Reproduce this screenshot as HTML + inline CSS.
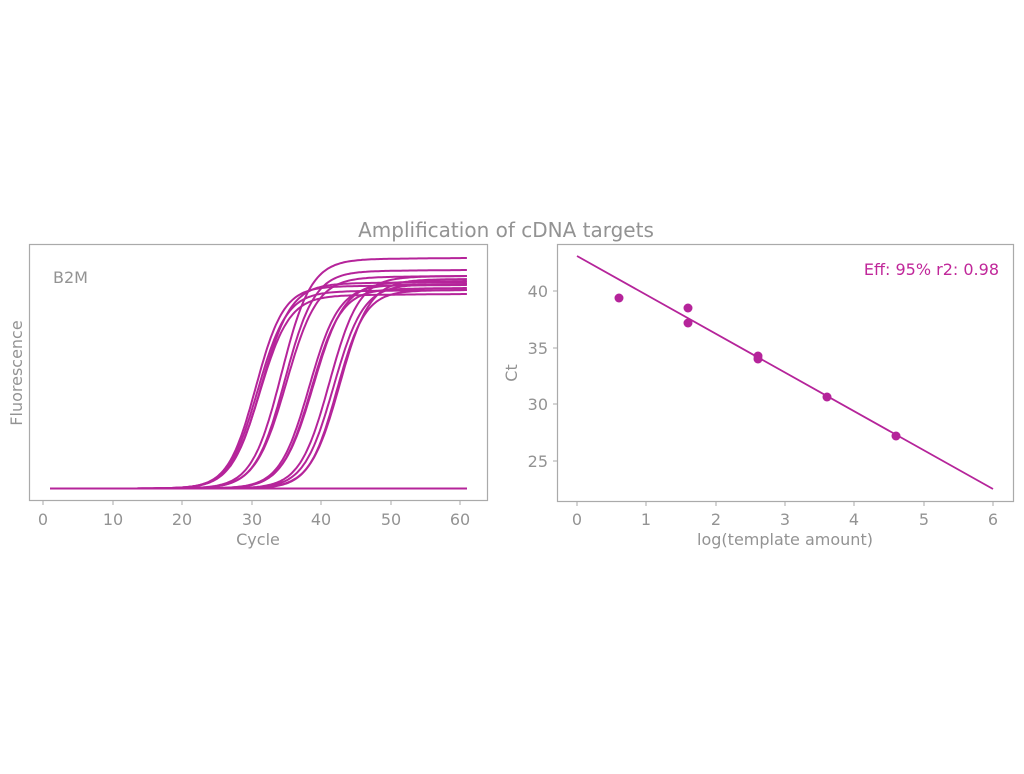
<!DOCTYPE html>
<html><head><meta charset="utf-8"><style>
body{margin:0;background:#fff;}
svg text{font-family:"DejaVu Sans","Liberation Sans",sans-serif;fill:#939393;}
</style></head><body>
<svg id="s" width="1024" height="769" xmlns="http://www.w3.org/2000/svg">
<text x="506" y="237" font-size="20" text-anchor="middle">Amplification of cDNA targets</text>
<rect x="29.5" y="244.5" width="458" height="256" fill="none" stroke="#aaa" stroke-width="1.2"/>
<text x="53" y="283" font-size="16">B2M</text>
<text transform="translate(22,373) rotate(-90)" font-size="16" text-anchor="middle">Fluorescence</text>
<g font-size="16" text-anchor="middle">
<text x="43" y="525">0</text><text x="113" y="525">10</text><text x="182" y="525">20</text><text x="252" y="525">30</text><text x="321" y="525">40</text><text x="391" y="525">50</text><text x="460" y="525">60</text>
<text x="258" y="545">Cycle</text>
</g>
<g stroke="#aaa"><line x1="43" y1="501" x2="43" y2="505"/><line x1="113" y1="501" x2="113" y2="505"/><line x1="182" y1="501" x2="182" y2="505"/><line x1="252" y1="501" x2="252" y2="505"/><line x1="321" y1="501" x2="321" y2="505"/><line x1="391" y1="501" x2="391" y2="505"/><line x1="460" y1="501" x2="460" y2="505"/></g>
<g id="curves" fill="none" stroke="#b5249a" stroke-width="2"></g>
<line x1="50" y1="488.5" x2="467" y2="488.5" stroke="#b5249a" stroke-width="2"/>

<rect x="557.5" y="244.5" width="456" height="257" fill="none" stroke="#aaa" stroke-width="1.2"/>
<text transform="translate(517,373) rotate(-90)" font-size="16" text-anchor="middle">Ct</text>
<g font-size="16" text-anchor="end">
<text x="548" y="297">40</text><text x="548" y="354">35</text><text x="548" y="410">30</text><text x="548" y="467">25</text>
</g>
<g stroke="#aaa"><line x1="553" y1="291" x2="557" y2="291"/><line x1="553" y1="348" x2="557" y2="348"/><line x1="553" y1="404" x2="557" y2="404"/><line x1="553" y1="461" x2="557" y2="461"/>
<line x1="577" y1="502" x2="577" y2="506"/><line x1="646" y1="502" x2="646" y2="506"/><line x1="716" y1="502" x2="716" y2="506"/><line x1="785" y1="502" x2="785" y2="506"/><line x1="854" y1="502" x2="854" y2="506"/><line x1="924" y1="502" x2="924" y2="506"/><line x1="993" y1="502" x2="993" y2="506"/></g>
<g font-size="16" text-anchor="middle">
<text x="577" y="525">0</text><text x="646" y="525">1</text><text x="716" y="525">2</text><text x="785" y="525">3</text><text x="854" y="525">4</text><text x="924" y="525">5</text><text x="993" y="525">6</text>
<text x="785" y="545">log(template amount)</text>
</g>
<text x="999" y="275" font-size="16" text-anchor="end" style="fill:#c0279a">Eff: 95% r2: 0.98</text>
<line x1="577" y1="256" x2="993" y2="489" stroke="#b5249a" stroke-width="1.8"/>
<g fill="#b5249a">
<circle cx="619" cy="298" r="4.5"/><circle cx="688" cy="308" r="4.5"/><circle cx="688" cy="323" r="4.5"/>
<circle cx="758" cy="356" r="4.5"/><circle cx="758" cy="359" r="4.5"/><circle cx="827" cy="397" r="4.5"/><circle cx="896" cy="436" r="4.5"/>
</g>
</svg>
<script>
var specs=[[30.6,285,0.5],[30.9,290,0.48],[31.2,294,0.47],[31.4,282,0.47],[34.3,258,0.47],[34.8,270,0.47],[35,276,0.45],
[38.3,284,0.47],[38.6,288,0.47],[38.9,281,0.45],[41.2,276,0.47],[41.8,284,0.47],[42.3,290,0.5],[42.7,279,0.47]];
var g=document.getElementById('curves'),ns='http://www.w3.org/2000/svg';
specs.forEach(function(s){var d='';for(var c=1;c<=61;c+=0.25){var x=43+c*6.95;var top=s[1]+ (61-c)*0.06;var y=488.5-(488.5-top)/(1+Math.exp(-s[2]*(c-s[0])));d+=(d?'L':'M')+x.toFixed(1)+','+y.toFixed(1);}
var p=document.createElementNS(ns,'path');p.setAttribute('d',d);g.appendChild(p);});
</script>
</body></html>
